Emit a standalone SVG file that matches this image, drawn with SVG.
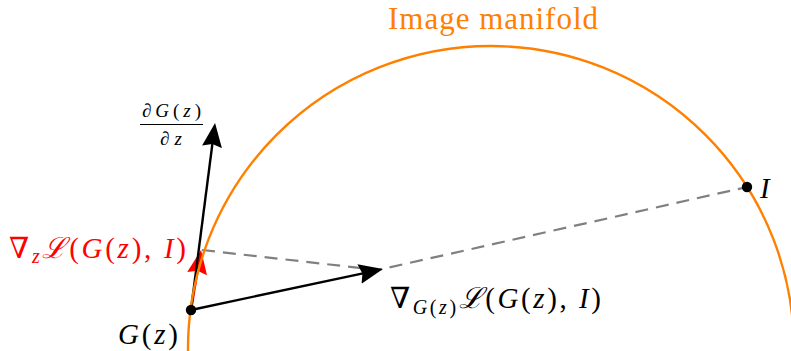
<svg xmlns="http://www.w3.org/2000/svg" width="791" height="351" viewBox="0 0 791 351">
<style>
text{font-family:'Liberation Serif','DejaVu Serif',serif;font-size:29px;fill:#000}
.i{font-style:italic}
.s{font-size:20px}
.red{fill:#ff0000}
.orange{fill:#ff8000}
.dash{fill:none;stroke:#808080;stroke-width:2.2;stroke-dasharray:13 8}
.arr{fill:none;stroke:#000;stroke-width:2.4}
.arrR{fill:none;stroke:#ff0000;stroke-width:2.4}
</style>
<defs>
<marker id="hb" viewBox="0 0 24 20" refX="18" refY="10" markerWidth="24" markerHeight="20" markerUnits="userSpaceOnUse" orient="auto">
<path d="M0,0 L24,10 L0,20 L3,10 z" fill="#000"/>
</marker>
<marker id="hr" viewBox="0 0 24 20" refX="18" refY="10" markerWidth="24" markerHeight="20" markerUnits="userSpaceOnUse" orient="auto">
<path d="M0,0 L24,10 L0,20 L3,10 z" fill="#ff0000"/>
</marker>
</defs>
<g id="connectors">
<path class="dash" d="M202,250 L378,270 L747,187"/>
<path class="arrR" d="M191,310 L200.1,255.9" marker-end="url(#hr)"/>
<path class="arr" d="M191,310 L214.3,129" marker-end="url(#hb)"/>
<path class="arr" d="M191,310 L377.1,270.3" marker-end="url(#hb)"/>
</g>
<g id="manifold">
<path d="M188,351 A303,303 0 0 1 491,46 A303,303 0 0 1 794,351" fill="none" stroke="#ff8000" stroke-width="2.4"/>
<text class="orange" x="388" y="29" style="font-size:31px" textLength="210" lengthAdjust="spacing">Image manifold</text>
</g>
<g id="Gz">
<circle cx="191" cy="310" r="5.2" fill="#000"/>
<text x="118" y="344" textLength="60" lengthAdjust="spacing"><tspan class="i">G</tspan>(<tspan class="i">z</tspan>)</text>
</g>
<g id="I">
<circle cx="747" cy="187" r="5.2" fill="#000"/>
<text class="i" x="760" y="198">I</text>
</g>
<g id="dGdz">
<text x="142" y="117" style="font-size:19px" textLength="59" lengthAdjust="spacing"><tspan class="i">∂G</tspan>(<tspan class="i">z</tspan>)</text>
<line x1="140" y1="124.5" x2="203" y2="124.5" stroke="#000" stroke-width="1"/>
<text x="160" y="145" style="font-size:19px" textLength="22" lengthAdjust="spacing"><tspan class="i">∂z</tspan></text>
</g>
<g id="gradz">
<text class="red" x="9" y="258" textLength="177" lengthAdjust="spacing">∇<tspan class="i s" dy="5">z</tspan><tspan class="i" dy="-5">ℒ</tspan>(<tspan class="i">G</tspan>(<tspan class="i">z</tspan>), <tspan class="i">I</tspan>)</text>
</g>
<g id="gradG">
<text x="390" y="308" textLength="211" lengthAdjust="spacing">∇<tspan class="s" dy="6"><tspan class="i">G</tspan>(<tspan class="i">z</tspan>)</tspan><tspan class="i" dy="-6">ℒ</tspan>(<tspan class="i">G</tspan>(<tspan class="i">z</tspan>), <tspan class="i">I</tspan>)</text>
</g>
</svg>
